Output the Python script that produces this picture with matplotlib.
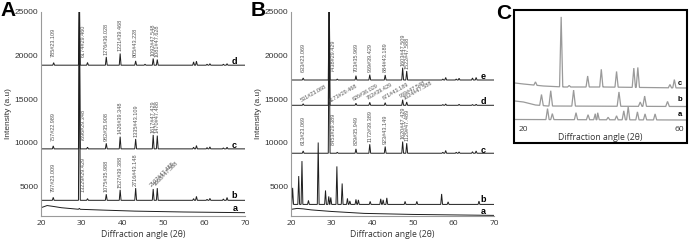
import numpy as np
import matplotlib
matplotlib.use('Agg')
import matplotlib.pyplot as plt
from matplotlib.patches import Rectangle

# ---------------- data: panel A ----------------
A_d_base = 18900
A_d_pos = [23.1, 29.4, 31.4, 36.0, 39.4, 43.2, 45.5, 47.5, 48.5, 57.4, 58.1, 60.7, 61.4, 64.7, 65.6]
A_d_h = [290, 9000, 310, 950, 1340, 490, 110, 770, 650, 380, 460, 110, 170, 110, 170]
A_c_base = 9300
A_c_pos = [23.0, 29.4, 31.4, 36.0, 39.4, 43.2, 47.5, 48.5, 57.4, 58.1, 60.7, 61.4, 64.7, 65.6]
A_c_h = [340, 17000, 190, 640, 1400, 1135, 1600, 1520, 190, 380, 150, 230, 110, 190]
A_b_base = 3400
A_b_pos = [23.0, 29.4, 31.4, 36.0, 39.4, 43.2, 47.5, 48.5, 57.4, 58.1, 60.7, 61.4, 64.7, 65.6]
A_b_h = [340, 23000, 190, 700, 1200, 1400, 1300, 1400, 190, 450, 110, 220, 150, 320]
A_a_x = [20, 21.5, 23, 25, 29, 35, 43, 55, 70]
A_a_y = [2550, 2800, 2700, 2550, 2380, 2280, 2160, 2060, 1980]
A_a_pos = [29.4]
A_a_h = [100]

A_d_lab = ["785#23.109", "6174#29.460", "1276#36.028", "1221#39.468", "805#43.228", "1092#47.548", "1081#47.628"]
A_c_lab = ["757#22.989", "7696#29.348", "982#35.908", "1426#39.348", "1335#43.109", "1617#47.429", "1470#47.488"]
A_b_lab = ["797#23.009", "13229#29.429", "1075#35.988", "1527#39.388", "2716#43.148", "2107#47.488", "1668#47.568"]

# ---------------- data: panel B ----------------
B_e_base = 17200
B_e_pos = [23.0, 29.4, 31.4, 36.0, 39.4, 43.2, 47.5, 48.5, 57.4, 58.1, 60.7, 61.4, 64.7, 65.6]
B_e_h = [230, 10000, 110, 500, 610, 575, 1410, 1030, 110, 290, 110, 200, 230, 290]
B_d_base = 14300
B_d_pos = [23.0, 29.4, 36.0, 39.4, 43.2, 47.5, 48.5, 57.4, 58.1, 61.4, 64.7, 65.6]
B_d_h = [170, 13000, 230, 340, 300, 640, 380, 80, 150, 110, 80, 110]
B_c_base = 8800
B_c_pos = [23.0, 29.4, 31.4, 36.0, 39.4, 43.2, 47.5, 48.5, 57.4, 58.1, 60.7, 61.4, 64.7, 65.6]
B_c_h = [260, 17000, 110, 500, 1030, 770, 1340, 1150, 110, 310, 110, 150, 170, 260]
B_b_base = 2930
B_b_pos = [20.4, 21.9, 22.7, 24.3, 26.7, 28.5, 29.3, 29.8, 31.3, 32.6, 33.9, 34.5, 36.0, 36.6,
           39.5, 42.1, 42.7, 43.6, 48.1, 51.0, 57.1, 58.7, 66.3]
B_b_h = [1900, 3250, 4970, 460, 7100, 1600, 920, 800, 4360, 2400, 690, 400, 575, 520,
         345, 640, 520, 750, 345, 345, 1200, 290, 380]
B_a_x = [20, 21.5, 23, 25, 30, 38, 50, 70]
B_a_y = [2360, 2470, 2420, 2300, 2120, 1900, 1780, 1670]

B_e_lab = ["633#23.069", "7438#29.429", "703#35.969", "969#39.429", "884#43.189", "1603#47.509", "1522#47.588"]
B_d_lab = ["531#23.068", "4173#29.468", "626#36.029", "762#39.429", "671#43.189", "969#47.548", "1624#47.588"]
B_c_lab = ["613#23.069", "8453#29.389", "829#35.949", "1172#39.389", "923#43.149", "1620#47.429", "1129#47.489"]
lab_pos = [23.0, 29.4, 36.0, 39.4, 43.2, 47.5, 48.5]

# ---------------- data: panel C ----------------
C_c_x = [17.9, 20, 25, 30, 40, 60.5]
C_c_y = [40, 39, 37, 36, 36, 35]
C_c_pos = [23.0, 29.4, 31.4, 36.0, 39.4, 43.2, 47.5, 48.5, 56.5, 57.6]
C_c_h = [3.3, 70, 1.5, 11, 17.7, 15.7, 19.3, 20, 3.3, 8.3]
C_b_x = [17.9, 20, 23, 26, 60.5]
C_b_y = [22, 21, 18, 17, 16.5]
C_b_pos = [24.5, 26.8, 32.5, 43.8, 49.1, 50.2, 55.9]
C_b_h = [11, 15.3, 16, 14.3, 4.3, 10.3, 5]
C_a_x = [17.9, 60.5]
C_a_y = [3.5, 3]
C_a_pos = [26.0, 27.2, 33.1, 36.1, 37.9, 38.5, 41.1, 43.2, 45.0, 46.1, 48.4, 50.3, 52.8]
C_a_h = [11, 6, 7, 5, 6, 7, 2.5, 4, 9, 13, 8, 6, 6]

xticks_AB = [20, 30, 40, 50, 60, 70]
yticks_AB = [5000, 10000, 15000, 20000, 25000]
xticks_C = [20, 60]


def trace(bx, by, pos, h, w):
    xs = list(bx)
    ys = list(by)
    for p, hh in zip(pos, h):
        for dx, add in ((-w, 0.0), (0.0, hh), (w, 0.0)):
            x = p + dx
            xs.append(x)
            ys.append(np.interp(x, bx, by) + add)
    order = np.argsort(xs, kind='stable')
    return np.array(xs)[order], np.array(ys)[order]


W, H = 689, 245
fig = plt.figure(figsize=(W / 100, H / 100), dpi=100)
fig.patch.set_facecolor('white')


def box(l, r, t, b):
    return [l / W, (H - b) / H, (r - l) / W, (b - t) / H]


LINE = '#1e1e1e'
LABC = '#555555'
TICKF = 'Liberation Sans'
XF = 'Open Sans'


def style_ab(ax):
    ax.set_xlim(20, 70)
    ax.set_ylim(1600, 25000)
    for s in ('top', 'right'):
        ax.spines[s].set_visible(False)
    for s in ('left', 'bottom'):
        ax.spines[s].set_color('#9a9a9a')
        ax.spines[s].set_linewidth(0.8)
    ax.set_xticks(xticks_AB)
    ax.set_yticks(yticks_AB)
    ax.tick_params(length=0, pad=2)
    for t in ax.get_yticklabels():
        t.set_fontfamily(TICKF)
        t.set_fontsize(6)
        t.set_color('#333333')
    ax.set_xticklabels([str(v) for v in xticks_AB], fontfamily=XF, fontsize=6, color='#333333')
    ax.tick_params(axis='x', pad=3)
    ax.set_xlabel('Diffraction angle (2θ)', fontfamily=XF, fontsize=6.2, color='#333333', labelpad=2)
    ax.set_ylabel('Intensity (a.u)', fontfamily=TICKF, fontsize=6, color='#333333', labelpad=2)


def flat(base):
    return [20, 70], [base, base]


def draw(ax, bx, by, pos, h, w=0.22, color=LINE, lw=0.7):
    x, y = trace(bx, by, pos, h, w)
    ax.plot(x, y, color=color, lw=lw, solid_joinstyle='miter')


def vlabels(ax, base, pos, h, texts, main_dy=900, minh=700, rot45=()):
    for i, (p, t) in enumerate(zip(lab_pos, texts)):
        hh = h[pos.index(p)] if p in pos else 0
        if p == 29.4:
            ax.text(p + 0.9, base + main_dy, t, rotation=90, ha='center', va='bottom',
                    fontsize=4, color=LABC, fontfamily=TICKF)
        elif i in rot45:
            ax.text(p - 0.2, base + hh + 150, t, rotation=45, rotation_mode='anchor',
                    ha='left', va='bottom', fontsize=4, color=LABC, fontfamily=TICKF)
        else:
            ax.text(p, base + max(hh, minh) + 250, t, rotation=90, ha='center', va='bottom',
                    fontsize=4, color=LABC, fontfamily=TICKF)


def name(ax, x, y, s, fs=6.5):
    ax.text(x, y, s, fontsize=fs, fontweight='bold', ha='center', va='center',
            fontfamily=TICKF, color='black')


# ---------------- Panel A ----------------
axA = fig.add_axes(box(41, 245, 12, 216))
style_ab(axA)
draw(axA, *flat(A_d_base), A_d_pos, A_d_h)
draw(axA, *flat(A_c_base), A_c_pos, A_c_h)
draw(axA, *flat(A_b_base), A_b_pos, A_b_h)
draw(axA, A_a_x, A_a_y, A_a_pos, A_a_h)
vlabels(axA, A_d_base, A_d_pos, A_d_h, A_d_lab)
vlabels(axA, A_c_base, A_c_pos, A_c_h, A_c_lab)
vlabels(axA, A_b_base, A_b_pos, A_b_h, A_b_lab, rot45=(5, 6))
name(axA, 67.3, A_d_base + 450, 'd')
name(axA, 67.3, A_c_base + 350, 'c')
name(axA, 67.3, A_b_base + 550, 'b')
name(axA, 67.6, A_a_y[-1] + 450, 'a')

# ---------------- Panel B ----------------
axB = fig.add_axes(box(291, 494, 12, 216))
style_ab(axB)
draw(axB, *flat(B_e_base), B_e_pos, B_e_h)
draw(axB, *flat(B_d_base), B_d_pos, B_d_h)
draw(axB, *flat(B_c_base), B_c_pos, B_c_h)
draw(axB, *flat(B_b_base), B_b_pos, B_b_h)
draw(axB, B_a_x, B_a_y, [], [])
vlabels(axB, B_e_base, B_e_pos, B_e_h, B_e_lab)
vlabels(axB, B_c_base, B_c_pos, B_c_h, B_c_lab)
for p, t in zip(lab_pos, B_d_lab):
    hh = B_d_h[B_d_pos.index(p)]
    if p == 29.4:
        hh = 0
        p = 30.0
    axB.text(p - 0.3, B_d_base + hh + 150, t, rotation=30, rotation_mode='anchor',
             ha='left', va='bottom', fontsize=4, color=LABC, fontfamily=TICKF)
name(axB, 67.3, B_e_base + 450, 'e')
name(axB, 67.3, B_d_base + 450, 'd')
name(axB, 67.3, B_c_base + 350, 'c')
name(axB, 67.3, B_b_base + 600, 'b')
name(axB, 67.3, B_a_y[-1] + 450, 'a')

# ---------------- Panel C ----------------
axC = fig.add_axes(box(515, 686, 11, 123))
axC.set_xlim(17.9, 60.5)
axC.set_ylim(0, 112)
for s in axC.spines.values():
    s.set_visible(False)
axC.set_yticks([])
axC.set_xticks(xticks_C)
axC.set_xticklabels([str(v) for v in xticks_C], fontfamily=XF, fontsize=6, color='#333333')
axC.get_xticklabels()[-1].set_horizontalalignment('right')
axC.tick_params(length=0, pad=2)
axC.set_xlabel('Diffraction angle (2θ)', fontfamily=XF, fontsize=6.2, color='#333333', labelpad=0)
CG = '#9a9a9a'
draw(axC, C_c_x, C_c_y, C_c_pos, C_c_h, w=0.4, color=CG, lw=0.9)
draw(axC, C_b_x, C_b_y, C_b_pos, C_b_h, w=0.45, color=CG, lw=0.9)
draw(axC, C_a_x, C_a_y, C_a_pos, C_a_h, w=0.4, color=CG, lw=0.9)
name(axC, 59.0, 40, 'c', fs=5.5)
name(axC, 59.0, 23.7, 'b', fs=5.5)
name(axC, 59.0, 9, 'a', fs=5.5)
fig.add_artist(Rectangle((514 / W, (H - 143) / H), 173 / W, 133 / H, transform=fig.transFigure,
                         fill=False, lw=1.5, ec='black'))

# ---------------- panel letters ----------------
for x, y, s in ((0, 1, 'A'), (251, 1, 'B'), (496, 4, 'C')):
    fig.text(x / W, 1 - y / H, s, fontsize=15, fontweight='bold', fontfamily=TICKF,
             ha='left', va='top')

fig.savefig('out.png', dpi=100, facecolor='white')
